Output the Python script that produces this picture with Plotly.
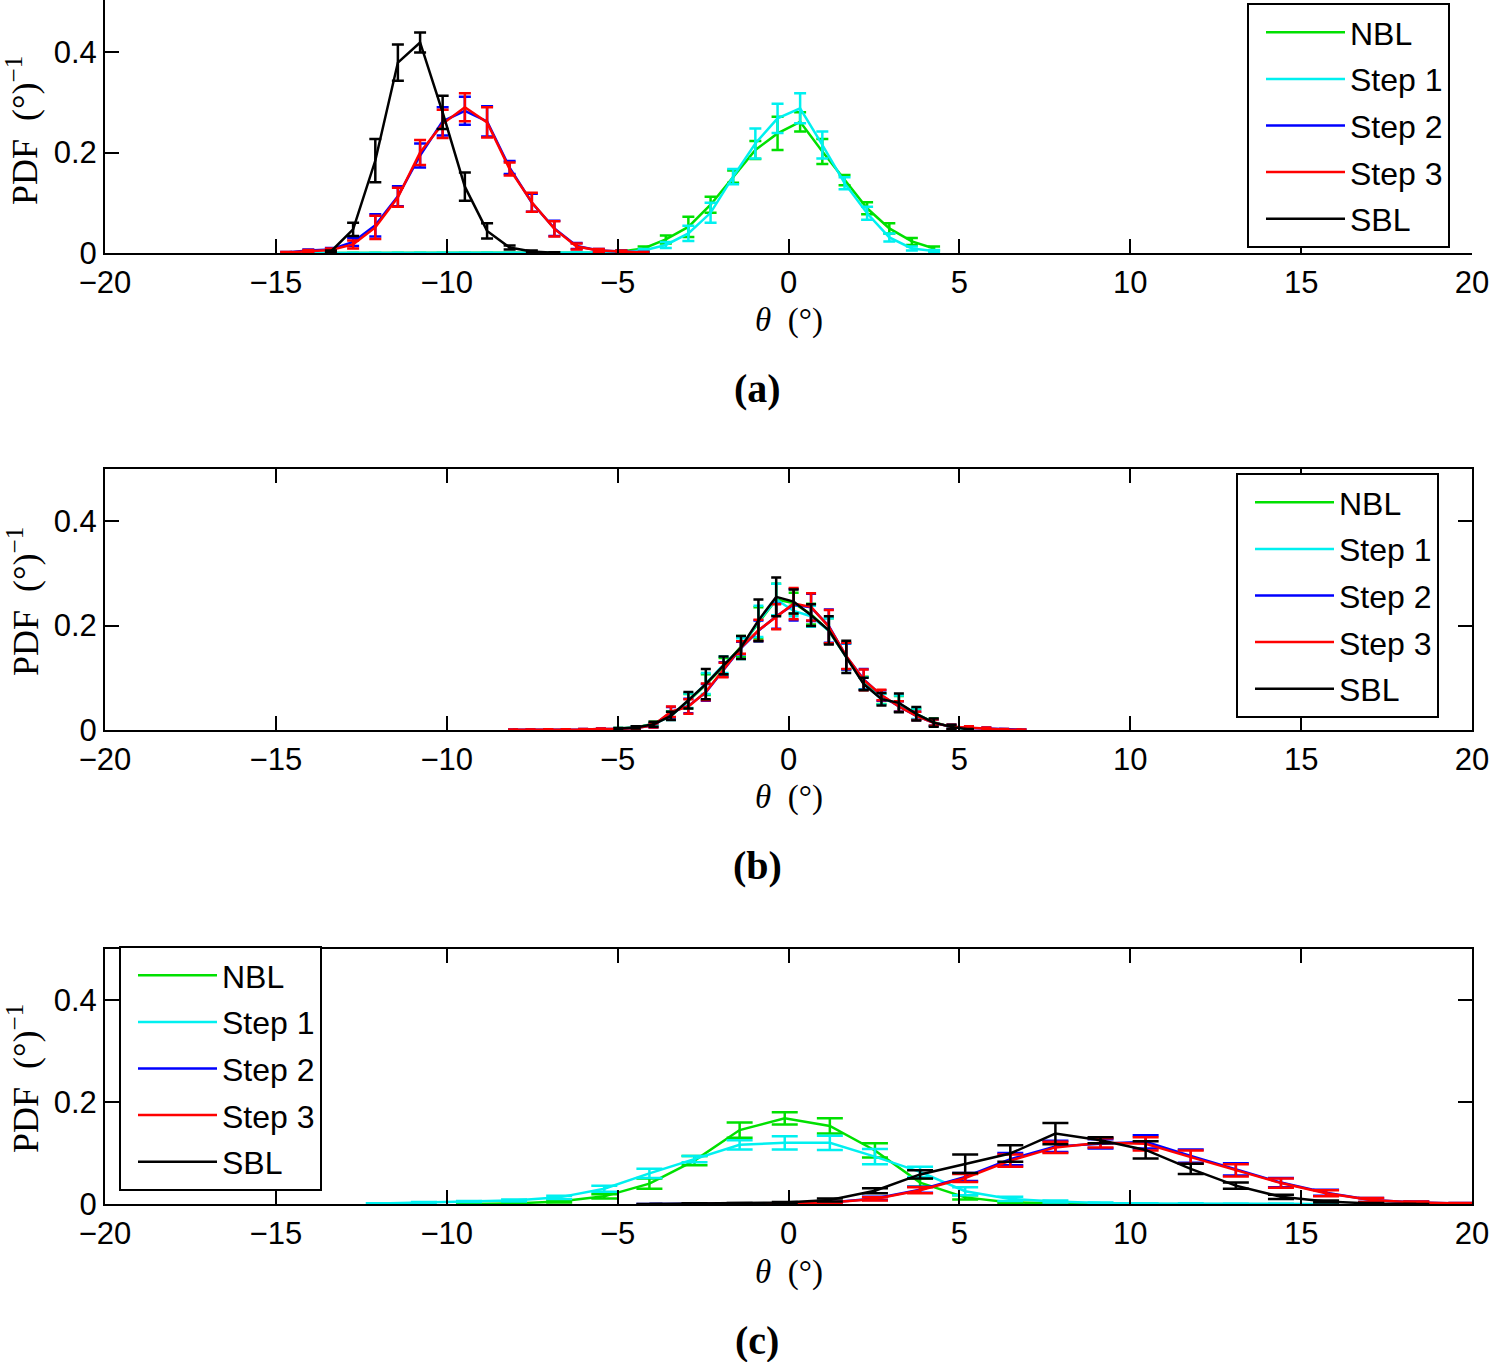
import plotly.graph_objects as go

# ---------------- data ----------------
SERIES = ["NBL", "Step 1", "Step 2", "Step 3", "SBL"]
COLORS = ["#00e000", "#00f0f0", "#0000ff", "#ff0000", "#000000"]

X_TICKS = [-20, -15, -10, -5, 0, 5, 10, 15, 20]
Y_TICKS = [0, 0.2, 0.4]

# panel (a)
XA = [-14.70, -14.05, -13.39, -12.74, -12.09, -11.43, -10.78, -10.12, -9.47, -8.82,
      -8.16, -7.51, -6.85, -6.20, -5.55, -4.89, -4.24, -3.59, -2.93, -2.28,
      -1.62, -0.97, -0.32, 0.34, 0.99, 1.64, 2.30, 2.95, 3.61, 4.26]
NBL_A = [None, 0, 0, 0, 0, 0, 0, 0, 0, 0, 0, 0, 0, 0.0005, 0.001, 0.003, 0.009, 0.027,
         0.052, 0.096, 0.152, 0.205, 0.238, 0.261, 0.202, 0.145, 0.089, 0.049, 0.023, 0.009]
NBL_A_ERR = [None, 0, 0, 0, 0, 0, 0, 0, 0, 0, 0, 0, 0, 0.0005, 0.001, 0.002, 0.004, 0.008,
             0.02, 0.016, 0.012, 0.018, 0.033, 0.019, 0.025, 0.01, 0.012, 0.01, 0.007, 0.004]
STEP1_A = [None, 0, 0, 0, 0, 0, 0, 0, 0, 0, 0, 0, 0, 0.0005, 0.001, 0.002, 0.005, 0.016,
           0.039, 0.08, 0.152, 0.218, 0.268, 0.288, 0.215, 0.139, 0.079, 0.031, 0.009, 0.004]
STEP1_A_ERR = [None, 0, 0, 0, 0, 0, 0, 0, 0, 0, 0, 0, 0, 0.0005, 0.001, 0.001, 0.003, 0.006,
               0.015, 0.02, 0.015, 0.03, 0.029, 0.03, 0.027, 0.012, 0.013, 0.008, 0.004, 0.002]
STEP2_A = [0.001, 0.005, 0.007, 0.022, 0.055, 0.113, 0.194, 0.262, 0.283, 0.262, 0.17, 0.1,
           0.049, 0.014, 0.005, 0.003, 0.001] + [None] * 13
STEP2_A_ERR = [0.001, 0.002, 0.003, 0.008, 0.022, 0.02, 0.024, 0.028, 0.028, 0.03, 0.013, 0.018,
               0.015, 0.006, 0.003, 0.002, 0.001] + [None] * 13
STEP3_A = [0.001, 0.004, 0.006, 0.017, 0.051, 0.111, 0.2, 0.257, 0.29, 0.26, 0.167, 0.101,
           0.048, 0.013, 0.005, 0.003, 0.001] + [None] * 13
STEP3_A_ERR = [0.001, 0.002, 0.003, 0.008, 0.023, 0.019, 0.025, 0.028, 0.028, 0.03, 0.013, 0.019,
               0.015, 0.006, 0.003, 0.002, 0.001] + [None] * 13
SBL_A = [None, None, 0.003, 0.047, 0.184, 0.379, 0.419, 0.28, 0.132, 0.044, 0.011, 0.003,
         0.0005] + [None] * 17
SBL_A_ERR = [None, None, 0.002, 0.013, 0.043, 0.036, 0.02, 0.033, 0.028, 0.015, 0.004, 0.002,
             0.001] + [None] * 17

# panel (b)
XB = [-8.06, -7.55, -7.03, -6.52, -6.01, -5.49, -4.98, -4.47, -3.95, -3.44,
      -2.93, -2.42, -1.90, -1.39, -0.88, -0.36, 0.15, 0.66, 1.18, 1.69,
      2.20, 2.72, 3.23, 3.74, 4.25, 4.77, 5.28, 5.79, 6.31, 6.82]
NBL_B = [None] * 6 + [0.003, 0.005, 0.012, 0.028, 0.055, 0.087, 0.122, 0.16, 0.205, 0.25,
                      0.243, 0.222, 0.19, 0.141, 0.09, 0.06, 0.05, 0.03, 0.015, 0.006, 0.002] + [None] * 3
NBL_B_ERR = [None] * 6 + [0.001, 0.002, 0.004, 0.008, 0.014, 0.02, 0.016, 0.02, 0.03, 0.03,
                          0.02, 0.02, 0.024, 0.025, 0.012, 0.01, 0.015, 0.01, 0.007, 0.003, 0.001] + [None] * 3
STEP1_B = [None] * 6 + [0.003, 0.005, 0.011, 0.027, 0.056, 0.089, 0.125, 0.156, 0.208, 0.25,
                        0.228, 0.218, 0.19, 0.14, 0.089, 0.059, 0.051, 0.031, 0.014, 0.006, 0.001] + [None] * 3
STEP1_B_ERR = [None] * 6 + [0.001, 0.002, 0.004, 0.008, 0.014, 0.02, 0.016, 0.02, 0.03, 0.03,
                            0.01, 0.02, 0.024, 0.025, 0.012, 0.01, 0.015, 0.01, 0.007, 0.003, 0.001] + [None] * 3
STEP2_B = [0.0005, 0.0005, 0.001, 0.001, 0.001, 0.002, 0.002, 0.004, 0.009, 0.034, 0.046, 0.072,
           0.116, 0.157, 0.19, 0.218, 0.24, 0.235, 0.199, 0.141, 0.097, 0.066, 0.045, 0.027,
           0.014, 0.006, 0.004, 0.003, 0.001, 0.0005]
STEP2_B_ERR = [0.0005, 0.0005, 0.0005, 0.0005, 0.001, 0.001, 0.001, 0.002, 0.004, 0.01, 0.014,
               0.016, 0.014, 0.012, 0.02, 0.024, 0.03, 0.026, 0.032, 0.025, 0.02, 0.01, 0.01,
               0.008, 0.006, 0.004, 0.003, 0.002, 0.001, 0.0005]
STEP3_B = [0.0005, 0.0005, 0.001, 0.001, 0.001, 0.002, 0.002, 0.004, 0.009, 0.035, 0.045, 0.073,
           0.115, 0.158, 0.191, 0.217, 0.242, 0.236, 0.198, 0.142, 0.096, 0.067, 0.045, 0.027,
           0.014, 0.006, 0.004, 0.003, 0.001, 0.0005]
STEP3_B_ERR = [0.0005, 0.0005, 0.0005, 0.0005, 0.001, 0.001, 0.001, 0.002, 0.004, 0.01, 0.014,
               0.016, 0.014, 0.012, 0.02, 0.024, 0.03, 0.026, 0.032, 0.025, 0.02, 0.01, 0.01,
               0.008, 0.006, 0.004, 0.003, 0.002, 0.001, 0.0005]
SBL_B = [None] * 6 + [0.003, 0.005, 0.011, 0.027, 0.057, 0.088, 0.124, 0.158, 0.21, 0.255,
                      0.246, 0.22, 0.191, 0.14, 0.088, 0.059, 0.052, 0.031, 0.014, 0.006, 0.001] + [None] * 3
SBL_B_ERR = [None] * 6 + [0.001, 0.002, 0.005, 0.008, 0.016, 0.029, 0.017, 0.022, 0.04, 0.037,
                          0.023, 0.021, 0.027, 0.031, 0.012, 0.012, 0.018, 0.013, 0.008, 0.004, 0.001] + [None] * 3

# panel (c)
XC = [-11.99, -10.67, -9.35, -8.03, -6.71, -5.39, -4.07, -2.75, -1.43, -0.11,
      1.21, 2.53, 3.85, 5.17, 6.49, 7.81, 9.13, 10.45, 11.77, 13.09,
      14.41, 15.73, 17.05, 18.37, 19.69]
NBL_C = [None, None, 0.0, 0.001, 0.005, 0.015, 0.04, 0.085, 0.145, 0.168, 0.153, 0.105, 0.042,
         0.013, 0.003, 0.001, 0.0] + [None] * 8
NBL_C_ERR = [None, None, 0, 0.0005, 0.002, 0.004, 0.01, 0.009, 0.015, 0.012, 0.015, 0.014, 0.008,
             0.004, 0.002, 0.001, 0] + [None] * 8
STEP1_C = [0.001, 0.003, 0.005, 0.007, 0.013, 0.03, 0.06, 0.088, 0.116, 0.12, 0.12, 0.093, 0.063,
           0.025, 0.01, 0.005, 0.002, 0.001, 0.001, 0.0005, 0.0005, 0.0] + [None] * 3
STEP1_C_ERR = [0.0005, 0.001, 0.001, 0.002, 0.003, 0.006, 0.009, 0.006, 0.009, 0.013, 0.014, 0.015,
               0.01, 0.008, 0.004, 0.002, 0.001, 0.0005, 0.0005, 0, 0, 0] + [None] * 3
STEP2_C = [None] * 6 + [0.0, 0.0, 0.0005, 0.001, 0.003, 0.011, 0.028, 0.053, 0.088, 0.113, 0.118,
                        0.122, 0.094, 0.068, 0.042, 0.022, 0.008, 0.003, 0.001]
STEP2_C_ERR = [None] * 6 + [0, 0, 0.0005, 0.0005, 0.001, 0.003, 0.006, 0.008, 0.012, 0.011, 0.009,
                            0.013, 0.013, 0.012, 0.009, 0.006, 0.004, 0.002, 0.001]
STEP3_C = [None] * 7 + [0.0, 0.0005, 0.001, 0.003, 0.01, 0.027, 0.051, 0.085, 0.111, 0.12, 0.118,
                        0.092, 0.066, 0.041, 0.021, 0.008, 0.003, 0.001]
STEP3_C_ERR = [None] * 7 + [0, 0.0005, 0.0005, 0.001, 0.003, 0.006, 0.008, 0.012, 0.011, 0.009,
                            0.013, 0.013, 0.012, 0.009, 0.006, 0.004, 0.002, 0.001]
SBL_C = [None] * 6 + [0.0, 0.001, 0.001, 0.003, 0.008, 0.026, 0.058, 0.079, 0.099, 0.138, 0.125,
                      0.106, 0.069, 0.036, 0.014, 0.005, 0.001, 0.0] + [None]
SBL_C_ERR = [None] * 6 + [0, 0.0005, 0.001, 0.001, 0.003, 0.005, 0.008, 0.018, 0.016, 0.021, 0.006,
                          0.017, 0.01, 0.006, 0.004, 0.002, 0.001, 0] + [None]

PANELS = [
    dict(key="a", x=XA, ys=[NBL_A, STEP1_A, STEP2_A, STEP3_A, SBL_A],
         errs=[NBL_A_ERR, STEP1_A_ERR, STEP2_A_ERR, STEP3_A_ERR, SBL_A_ERR], cap=6),
    dict(key="b", x=XB, ys=[NBL_B, STEP1_B, STEP2_B, STEP3_B, SBL_B],
         errs=[NBL_B_ERR, STEP1_B_ERR, STEP2_B_ERR, STEP3_B_ERR, SBL_B_ERR], cap=5),
    dict(key="c", x=XC, ys=[NBL_C, STEP1_C, STEP2_C, STEP3_C, SBL_C],
         errs=[NBL_C_ERR, STEP1_C_ERR, STEP2_C_ERR, STEP3_C_ERR, SBL_C_ERR], cap=13),
]

# ---------------- layout geometry ----------------
W, H = 1491, 1362
ML, MR = 105, 19
PW = W - ML - MR


def py(pix):
    return 1 - pix / H


def px(pix):
    return (pix - ML) / PW


DOMAINS = [[py(253), 1.0], [py(730), py(469)], [py(1204), py(949)]]
YRANGES = [[0, 0.5035], [0, 0.5], [0, 0.5]]
XTITLE_Y = [py(320), py(797), py(1272)]
LABEL_Y = [py(388), py(866), py(1340)]
YTITLE_Y = [py(131), py(602), py(1079)]
LEGENDS = [
    dict(x=px(1247), y=py(3)),
    dict(x=px(1236), y=py(473)),
    dict(x=px(119), y=py(946)),
]

SANS = "Liberation Sans, Arial, Helvetica, sans-serif"
SERIF = "Liberation Serif, Times New Roman, serif"

fig = go.Figure()
for p_i, panel in enumerate(PANELS):
    sfx = "" if p_i == 0 else str(p_i + 1)
    for s_i, name in enumerate(SERIES):
        fig.add_trace(go.Scatter(
            x=panel["x"], y=panel["ys"][s_i], mode="lines", name=name,
            line=dict(color=COLORS[s_i], width=2.5),
            error_y=dict(type="data", array=panel["errs"][s_i], visible=True,
                         color=COLORS[s_i], thickness=2.5, width=panel["cap"]),
            xaxis="x" + sfx, yaxis="y" + sfx,
            legend="legend" + sfx, legendgroup=panel["key"] + str(s_i),
        ))

layout = dict(
    width=W, height=H, margin=dict(l=ML, r=MR, t=0, b=0),
    paper_bgcolor="white", plot_bgcolor="white", showlegend=True,
    font=dict(family=SANS, size=31, color="black"),
)
annotations = []
for p_i in range(3):
    sfx = "" if p_i == 0 else str(p_i + 1)
    boxed = p_i > 0
    layout["xaxis" + sfx] = dict(
        domain=[0, 1], range=[-20, 20], anchor="y" + sfx, tickmode="array",
        tickvals=X_TICKS, ticks="inside", ticklen=14, tickwidth=2, tickcolor="black",
        showline=True, linecolor="black", linewidth=2,
        mirror="ticks" if boxed else False, showgrid=False, zeroline=False,
        tickfont=dict(family=SANS, size=31), automargin=False, ticklabelstandoff=1,
    )
    layout["yaxis" + sfx] = dict(
        domain=DOMAINS[p_i], range=YRANGES[p_i], anchor="x" + sfx, tickmode="array",
        tickvals=Y_TICKS, ticktext=["0", "0.2", "0.4"], ticks="inside", ticklen=14,
        tickwidth=2, tickcolor="black", showline=True, linecolor="black", linewidth=2,
        mirror="ticks" if boxed else False, showgrid=False, zeroline=False,
        tickfont=dict(family=SANS, size=31), automargin=False,
    )
    lg = LEGENDS[p_i]
    layout["legend" + sfx] = dict(
        x=lg["x"], y=lg["y"], xanchor="left", yanchor="top",
        bgcolor="white", bordercolor="black", borderwidth=2,
        font=dict(family=SANS, size=32, color="black"),
        itemwidth=79, tracegroupgap=2, indentation=12,
    )
    annotations.append(dict(
        text="<i>θ</i>  (°)", x=0.5, y=XTITLE_Y[p_i], xref="paper", yref="paper",
        showarrow=False, xanchor="center", yanchor="middle",
        font=dict(family=SERIF, size=33, color="black"),
    ))
    annotations.append(dict(
        text="<b>(" + "abc"[p_i] + ")</b>", x=px(757), y=LABEL_Y[p_i], xref="paper",
        yref="paper", showarrow=False, xanchor="center", yanchor="middle",
        font=dict(family=SERIF, size=40, color="black"),
    ))
    annotations.append(dict(
        text="PDF  (°)<sup>−1</sup>", x=px(23), y=YTITLE_Y[p_i], xref="paper",
        yref="paper", showarrow=False, xanchor="center", yanchor="middle",
        textangle=-90, font=dict(family=SERIF, size=36, color="black"),
    ))
layout["annotations"] = annotations
fig.update_layout(**layout)

fig.write_html(
    "out.html",
    config={"displayModeBar": False},
    post_script="document.body.style.margin='0px';document.body.style.overflow='hidden';",
)
